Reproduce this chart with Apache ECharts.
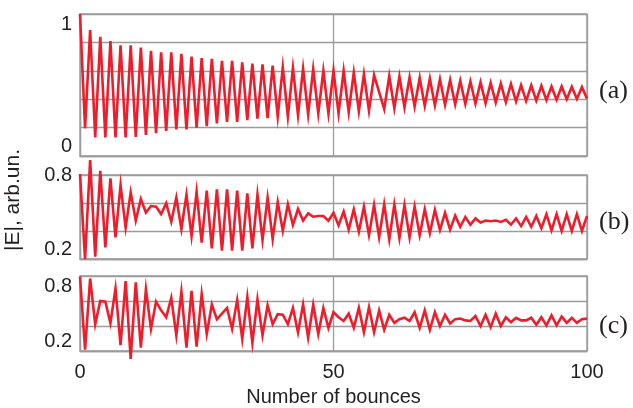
<!DOCTYPE html>
<html>
<head>
<meta charset="utf-8">
<script src="https://cdn.jsdelivr.net/npm/echarts@6/dist/echarts.min.js"></script>
<style>
  html, body { margin: 0; padding: 0; background: #ffffff; }
  #chart { width: 633px; height: 408px; }
</style>
</head>
<body>
<div id="chart"></div>
<script>
// Bounce numbers (x axis)
const bounces = [];
for (let i = 0; i <= 100; i++) bounces.push(i);

const xTicks = [0, 50, 100];
const xTitle = 'Number of bounces';
const yTitle = '|E|, arb.un.';
const panelLabels = ['(a)', '(b)', '(c)'];

// Panel (a): |E| values per bounce
const panelA = [
  1.0, 0.195, 0.887, 0.13, 0.84, 0.13, 0.81, 0.13, 0.78, 0.13,
  0.78, 0.135, 0.763, 0.148, 0.74, 0.16, 0.73, 0.176, 0.73, 0.188,
  0.72, 0.188, 0.70, 0.20, 0.69, 0.21, 0.685, 0.23, 0.67, 0.24,
  0.67, 0.24, 0.66, 0.253, 0.65, 0.263, 0.645, 0.266, 0.636, 0.277,
  0.625, 0.277, 0.62, 0.287, 0.615, 0.293, 0.613, 0.30, 0.60, 0.30,
  0.60, 0.30, 0.60, 0.31, 0.587, 0.315, 0.577, 0.32, 0.57, 0.45,
  0.33, 0.563, 0.337, 0.56, 0.343, 0.554, 0.348, 0.55, 0.353, 0.545,
  0.357, 0.54, 0.36, 0.535, 0.363, 0.53, 0.366, 0.526, 0.369, 0.52,
  0.372, 0.516, 0.376, 0.51, 0.38, 0.507, 0.384, 0.50, 0.387, 0.498,
  0.39, 0.495, 0.393, 0.49, 0.396, 0.49, 0.399, 0.488, 0.402, 0.485,
  0.404
];

// Panel (b)
const panelB = [
  0.807, 0.198, 0.907, 0.217, 0.83, 0.283, 0.776, 0.355, 0.728, 0.424,
  0.676, 0.474, 0.628, 0.531, 0.578, 0.574, 0.521, 0.598, 0.466, 0.638,
  0.414, 0.659, 0.364, 0.681, 0.317, 0.688, 0.276, 0.698, 0.26, 0.698,
  0.26, 0.688, 0.26, 0.669, 0.276, 0.659, 0.336, 0.638, 0.343, 0.607,
  0.402, 0.59, 0.443, 0.557, 0.474, 0.526, 0.502, 0.507, 0.507, 0.474,
  0.53, 0.44, 0.54, 0.41, 0.555, 0.395, 0.574, 0.37, 0.586, 0.355,
  0.59, 0.34, 0.59, 0.35, 0.586, 0.355, 0.575, 0.37, 0.555, 0.385,
  0.55, 0.407, 0.53, 0.41, 0.51, 0.43, 0.50, 0.445, 0.49, 0.46,
  0.475, 0.47, 0.475, 0.465, 0.48, 0.445, 0.49, 0.435, 0.50, 0.43,
  0.507, 0.42, 0.52, 0.405, 0.52, 0.40, 0.52, 0.40, 0.52, 0.40,
  0.507
];

// Panel (c)
const panelC = [
  0.795, 0.21, 0.78, 0.414, 0.60, 0.595, 0.424, 0.70, 0.247, 0.76,
  0.136, 0.749, 0.226, 0.694, 0.377, 0.595, 0.525, 0.47, 0.624, 0.325,
  0.673, 0.226, 0.682, 0.235, 0.654, 0.336, 0.572, 0.454, 0.499, 0.544,
  0.377, 0.607, 0.297, 0.631, 0.266, 0.612, 0.325, 0.565, 0.414, 0.494,
  0.49, 0.414, 0.544, 0.348, 0.572, 0.306, 0.572, 0.336, 0.544, 0.384,
  0.51, 0.47, 0.44, 0.50, 0.385, 0.545, 0.35, 0.55, 0.35, 0.525,
  0.37, 0.49, 0.425, 0.455, 0.466, 0.44, 0.51, 0.385, 0.525, 0.37,
  0.51, 0.40, 0.49, 0.42, 0.455, 0.46, 0.445, 0.44, 0.48, 0.40,
  0.49, 0.39, 0.50, 0.40, 0.47, 0.43, 0.466, 0.445, 0.445, 0.466,
  0.41, 0.47, 0.405, 0.485, 0.405, 0.475, 0.425, 0.466, 0.425, 0.455,
  0.46
];

const series = [panelA, panelB, panelC];

const GRID_COLOR = '#9b9b9b';
const LINE_COLOR = '#ee1d2b';
const TEXT_COLOR = '#231f20';
const FONT = '"Liberation Sans", Arial, Helvetica, sans-serif';
const FS = 20;

const grids = [
  { left: 80, top: 14, width: 507, height: 142 },
  { left: 80, top: 175, width: 507, height: 84 },
  { left: 80, top: 276, width: 507, height: 85 }
].map(g => Object.assign(g, { show: true, borderColor: GRID_COLOR, borderWidth: 1.3, backgroundColor: 'transparent' }));

const yRanges = [
  { min: 0, max: 1, interval: 0.2, minLabel: '0', maxLabel: '1', maxAlign: 'top' },
  { min: 0.2, max: 0.8, interval: 0.2, minLabel: '0.2', maxLabel: '0.8', maxAlign: 'middle' },
  { min: 0.2, max: 0.8, interval: 0.2, minLabel: '0.2', maxLabel: '0.8', maxAlign: 'top' }
];

const xAxes = grids.map((g, i) => ({
  type: 'value', gridIndex: i, min: 0, max: 100, interval: 50,
  axisLine: { show: true, lineStyle: { color: GRID_COLOR, width: 1.3 } },
  axisTick: { show: false },
  splitLine: { show: true, lineStyle: { color: GRID_COLOR, width: 1.3 } },
  axisLabel: {
    show: i === 2, margin: 11, color: TEXT_COLOR, fontSize: FS, fontFamily: FONT,
    formatter: v => (xTicks.indexOf(v) >= 0 ? String(v) : '')
  },
  name: i === 2 ? xTitle : '',
  nameLocation: 'middle', nameGap: 36,
  nameTextStyle: { color: TEXT_COLOR, fontSize: FS, fontFamily: FONT }
}));

const yAxes = yRanges.map((r, i) => ({
  type: 'value', gridIndex: i, min: r.min, max: r.max, interval: r.interval,
  axisLine: { show: true, lineStyle: { color: GRID_COLOR, width: 1.3 } },
  axisTick: { show: false },
  splitLine: { show: true, lineStyle: { color: GRID_COLOR, width: 1.3 } },
  axisLabel: {
    margin: 8, color: TEXT_COLOR, fontSize: FS, fontFamily: FONT,
    verticalAlignMinLabel: 'bottom',
    verticalAlignMaxLabel: r.maxAlign,
    formatter: v => {
      if (Math.abs(v - r.min) < 1e-6) return r.minLabel;
      if (Math.abs(v - r.max) < 1e-6) return r.maxLabel;
      return '';
    }
  }
}));

const chart = echarts.init(document.getElementById('chart'), null, { renderer: 'canvas' });

chart.setOption({
  animation: false,
  backgroundColor: '#ffffff',
  grid: grids,
  xAxis: xAxes,
  yAxis: yAxes,
  series: series.map((vals, i) => ({
    type: 'line', xAxisIndex: i, yAxisIndex: i,
    data: vals.map((v, k) => [bounces[k], v]),
    showSymbol: false, symbol: 'none', clip: false,
    lineStyle: { color: LINE_COLOR, width: 2.6, join: 'miter' },
    z: 5
  })),
  graphic: [
    {
      type: 'text', x: 13, y: 200, rotation: Math.PI / 2,
      style: { text: yTitle, fill: TEXT_COLOR, font: '21px ' + FONT, align: 'center', verticalAlign: 'middle' }
    },
    {
      type: 'text', x: 599, y: 91,
      style: { text: panelLabels[0], fill: TEXT_COLOR, font: '26px "Liberation Serif", "DejaVu Serif", serif', align: 'left', verticalAlign: 'middle' }
    },
    {
      type: 'text', x: 599, y: 222,
      style: { text: panelLabels[1], fill: TEXT_COLOR, font: '26px "Liberation Serif", "DejaVu Serif", serif', align: 'left', verticalAlign: 'middle' }
    },
    {
      type: 'text', x: 599, y: 326,
      style: { text: panelLabels[2], fill: TEXT_COLOR, font: '26px "Liberation Serif", "DejaVu Serif", serif', align: 'left', verticalAlign: 'middle' }
    }
  ]
});
</script>
</body>
</html>
